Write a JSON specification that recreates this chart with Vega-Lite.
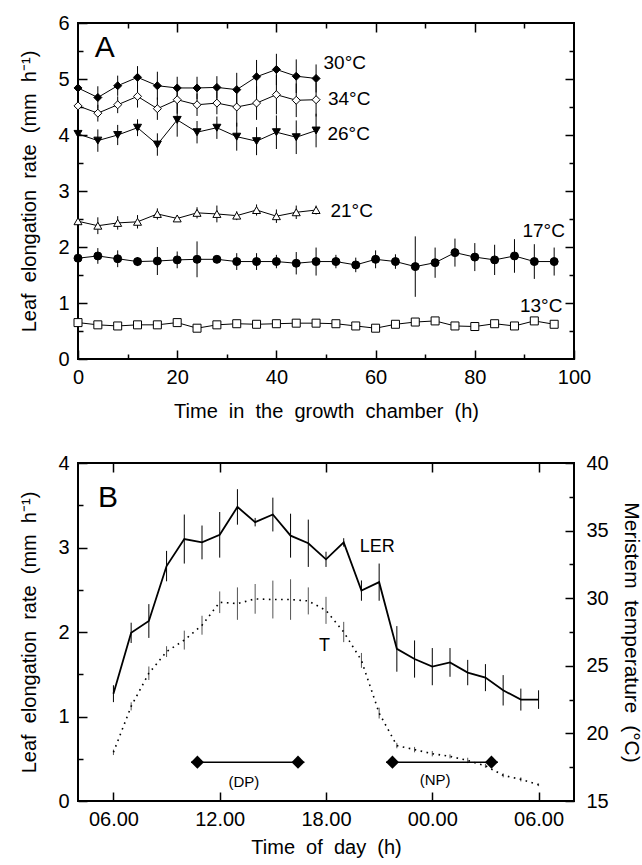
{
  "$schema": "https://vega.github.io/schema/vega-lite/v6.json",
  "background": "white",
  "padding": {"left": 18, "top": 12, "right": 0, "bottom": 0},
  "spacing": 30,
  "config": {
    "font": "Liberation Sans",
    "view": {"stroke": "black", "strokeWidth": 2},
    "axis": {"grid": false, "domain": false, "tickColor": "black", "tickWidth": 1.5, "labelFontSize": 20, "labelColor": "black", "labelFont": "Liberation Sans", "titleFont": "Liberation Sans", "titleFontSize": 20, "titleFontWeight": "normal", "titleColor": "black", "labelFlush": false, "labelOverlap": false},
    "text": {"font": "Liberation Sans", "color": "black"}
  },
  "datasets": {
    "A": [
      {"s":"30°C","t":0,"v":4.84,"e":0.12},{"s":"30°C","t":4,"v":4.67,"e":0.2},{"s":"30°C","t":8,"v":4.88,"e":0.18},{"s":"30°C","t":12,"v":5.03,"e":0.2},{"s":"30°C","t":16,"v":4.88,"e":0.25},{"s":"30°C","t":20,"v":4.84,"e":0.2},{"s":"30°C","t":24,"v":4.84,"e":0.2},{"s":"30°C","t":28,"v":4.85,"e":0.2},{"s":"30°C","t":32,"v":4.81,"e":0.3},{"s":"30°C","t":36,"v":5.04,"e":0.3},{"s":"30°C","t":40,"v":5.17,"e":0.28},{"s":"30°C","t":44,"v":5.05,"e":0.3},{"s":"30°C","t":48,"v":5.01,"e":0.25},
      {"s":"34°C","t":0,"v":4.52,"e":0.1},{"s":"34°C","t":4,"v":4.39,"e":0.15},{"s":"34°C","t":8,"v":4.54,"e":0.15},{"s":"34°C","t":12,"v":4.69,"e":0.2},{"s":"34°C","t":16,"v":4.47,"e":0.2},{"s":"34°C","t":20,"v":4.63,"e":0.25},{"s":"34°C","t":24,"v":4.54,"e":0.2},{"s":"34°C","t":28,"v":4.57,"e":0.2},{"s":"34°C","t":32,"v":4.5,"e":0.35},{"s":"34°C","t":36,"v":4.57,"e":0.3},{"s":"34°C","t":40,"v":4.72,"e":0.35},{"s":"34°C","t":44,"v":4.62,"e":0.3},{"s":"34°C","t":48,"v":4.63,"e":0.3},
      {"s":"26°C","t":0,"v":4.02,"e":0.12},{"s":"26°C","t":4,"v":3.9,"e":0.2},{"s":"26°C","t":8,"v":4.0,"e":0.18},{"s":"26°C","t":12,"v":4.13,"e":0.15},{"s":"26°C","t":16,"v":3.83,"e":0.2},{"s":"26°C","t":20,"v":4.27,"e":0.3},{"s":"26°C","t":24,"v":4.05,"e":0.2},{"s":"26°C","t":28,"v":4.13,"e":0.2},{"s":"26°C","t":32,"v":3.97,"e":0.25},{"s":"26°C","t":36,"v":3.89,"e":0.25},{"s":"26°C","t":40,"v":4.05,"e":0.3},{"s":"26°C","t":44,"v":3.96,"e":0.3},{"s":"26°C","t":48,"v":4.08,"e":0.3},
      {"s":"21°C","t":0,"v":2.46,"e":0.05},{"s":"21°C","t":4,"v":2.38,"e":0.15},{"s":"21°C","t":8,"v":2.43,"e":0.12},{"s":"21°C","t":12,"v":2.45,"e":0.12},{"s":"21°C","t":16,"v":2.59,"e":0.1},{"s":"21°C","t":20,"v":2.51,"e":0.05},{"s":"21°C","t":24,"v":2.61,"e":0.1},{"s":"21°C","t":28,"v":2.59,"e":0.15},{"s":"21°C","t":32,"v":2.56,"e":0.08},{"s":"21°C","t":36,"v":2.66,"e":0.1},{"s":"21°C","t":40,"v":2.55,"e":0.12},{"s":"21°C","t":44,"v":2.62,"e":0.12},{"s":"21°C","t":48,"v":2.66,"e":0.08},
      {"s":"17°C","t":0,"v":1.8,"e":0.05},{"s":"17°C","t":4,"v":1.84,"e":0.14},{"s":"17°C","t":8,"v":1.79,"e":0.15},{"s":"17°C","t":12,"v":1.74,"e":0.08},{"s":"17°C","t":16,"v":1.75,"e":0.25},{"s":"17°C","t":20,"v":1.77,"e":0.15},{"s":"17°C","t":24,"v":1.78,"e":0.32},{"s":"17°C","t":28,"v":1.78,"e":0.05},{"s":"17°C","t":32,"v":1.74,"e":0.15},{"s":"17°C","t":36,"v":1.74,"e":0.15},{"s":"17°C","t":40,"v":1.74,"e":0.12},{"s":"17°C","t":44,"v":1.71,"e":0.2},{"s":"17°C","t":48,"v":1.74,"e":0.25},{"s":"17°C","t":52,"v":1.74,"e":0.12},{"s":"17°C","t":56,"v":1.68,"e":0.13},{"s":"17°C","t":60,"v":1.78,"e":0.16},{"s":"17°C","t":64,"v":1.74,"e":0.13},{"s":"17°C","t":68,"v":1.65,"e":0.54},{"s":"17°C","t":72,"v":1.72,"e":0.27},{"s":"17°C","t":76,"v":1.9,"e":0.25},{"s":"17°C","t":80,"v":1.82,"e":0.25},{"s":"17°C","t":84,"v":1.77,"e":0.27},{"s":"17°C","t":88,"v":1.84,"e":0.3},{"s":"17°C","t":92,"v":1.74,"e":0.31},{"s":"17°C","t":96,"v":1.74,"e":0.25},
      {"s":"13°C","t":0,"v":0.65,"e":0.03},{"s":"13°C","t":4,"v":0.61,"e":0.03},{"s":"13°C","t":8,"v":0.59,"e":0.03},{"s":"13°C","t":12,"v":0.61,"e":0.03},{"s":"13°C","t":16,"v":0.61,"e":0.03},{"s":"13°C","t":20,"v":0.65,"e":0.06},{"s":"13°C","t":24,"v":0.55,"e":0.03},{"s":"13°C","t":28,"v":0.61,"e":0.03},{"s":"13°C","t":32,"v":0.63,"e":0.03},{"s":"13°C","t":36,"v":0.62,"e":0.03},{"s":"13°C","t":40,"v":0.63,"e":0.03},{"s":"13°C","t":44,"v":0.64,"e":0.03},{"s":"13°C","t":48,"v":0.64,"e":0.03},{"s":"13°C","t":52,"v":0.63,"e":0.03},{"s":"13°C","t":56,"v":0.59,"e":0.03},{"s":"13°C","t":60,"v":0.55,"e":0.03},{"s":"13°C","t":64,"v":0.62,"e":0.03},{"s":"13°C","t":68,"v":0.66,"e":0.03},{"s":"13°C","t":72,"v":0.68,"e":0.03},{"s":"13°C","t":76,"v":0.59,"e":0.03},{"s":"13°C","t":80,"v":0.58,"e":0.03},{"s":"13°C","t":84,"v":0.63,"e":0.03},{"s":"13°C","t":88,"v":0.59,"e":0.03},{"s":"13°C","t":92,"v":0.68,"e":0.04},{"s":"13°C","t":96,"v":0.62,"e":0.03}
    ],
    "Alab": [
      {"t":49.5,"v":5.28,"label":"30°C"},{"t":50.4,"v":4.65,"label":"34°C"},{"t":50.3,"v":4.02,"label":"26°C"},{"t":50.9,"v":2.65,"label":"21°C"},{"t":89.6,"v":2.28,"label":"17°C"},{"t":89.1,"v":0.95,"label":"13°C"}
    ],
    "LER": [
      {"t":6,"v":1.27,"e":0.1},{"t":7,"v":1.99,"e":0.12},{"t":8,"v":2.13,"e":0.2},{"t":9,"v":2.78,"e":0.18},{"t":10,"v":3.1,"e":0.29},{"t":11,"v":3.06,"e":0.2},{"t":12,"v":3.15,"e":0.27},{"t":13,"v":3.48,"e":0.21},{"t":14,"v":3.3,"e":0.05},{"t":15,"v":3.39,"e":0.2},{"t":16,"v":3.14,"e":0.26},{"t":17,"v":3.05,"e":0.28},{"t":18,"v":2.86,"e":0.09},{"t":19,"v":3.06,"e":0.05},{"t":20,"v":2.49,"e":0.12},{"t":21,"v":2.59,"e":0.22},{"t":22,"v":1.8,"e":0.27},{"t":23,"v":1.68,"e":0.22},{"t":24,"v":1.59,"e":0.22},{"t":25,"v":1.64,"e":0.17},{"t":26,"v":1.52,"e":0.15},{"t":27,"v":1.46,"e":0.16},{"t":28,"v":1.31,"e":0.18},{"t":29,"v":1.2,"e":0.13},{"t":30,"v":1.2,"e":0.11}
    ],
    "T": [
      {"t":6,"v":18.6,"e":0.2},{"t":7,"v":22.0,"e":0.3},{"t":8,"v":24.45,"e":0.5},{"t":9,"v":26.05,"e":0.4},{"t":10,"v":26.9,"e":0.7},{"t":11,"v":28.0,"e":0.7},{"t":12,"v":29.7,"e":0.8},{"t":13,"v":29.6,"e":1.2},{"t":14,"v":29.95,"e":1.1},{"t":15,"v":29.9,"e":1.4},{"t":16,"v":29.9,"e":1.5},{"t":17,"v":29.8,"e":1.0},{"t":18,"v":29.1,"e":1.0},{"t":19,"v":27.5,"e":0.75},{"t":20,"v":25.4,"e":0.55},{"t":21,"v":21.5,"e":0.4},{"t":22,"v":19.1,"e":0.2},{"t":23,"v":18.8,"e":0.2},{"t":24,"v":18.5,"e":0.2},{"t":25,"v":18.3,"e":0.15},{"t":26,"v":18.0,"e":0.2},{"t":27,"v":17.6,"e":0.15},{"t":28,"v":16.9,"e":0.15},{"t":29,"v":16.6,"e":0.15},{"t":30,"v":16.2,"e":0.1}
    ],
    "arrows": [
      {"lab":"DP","t0":10.38,"t1":16.78,"v":0.46},{"lab":"NP","t0":21.39,"t1":27.7,"v":0.46}
    ],
    "heads": [
      {"t":10.74,"v":0.46,"end":"left"},{"t":16.42,"v":0.46,"end":"right"},{"t":21.75,"v":0.46,"end":"left"},{"t":27.34,"v":0.46,"end":"right"}
    ],
    "Blab": [
      {"t":19.9,"v":3.01,"label":"LER"},{"t":17.6,"v":1.83,"label":"T"}
    ],
    "Bper": [
      {"t":13.36,"v":0.225,"label":"(DP)"},{"t":24.16,"v":0.25,"label":"(NP)"}
    ]
  },
  "vconcat": [
    {
      "width": 496,
      "height": 336,
      "resolve": {"axis": {"x": "independent", "y": "independent"}},
      "layer": [
        {
          "data": {"name": "A"},
          "mark": {"type": "errorbar", "color": "black", "thickness": 1},
          "encoding": {
            "x": {"field": "t", "type": "quantitative", "scale": {"domain": [0, 100], "nice": false, "zero": false},
                  "axis": {"orient": "bottom", "values": [0, 20, 40, 60, 80, 100], "tickSize": -9, "labelPadding": 17, "title": "Time \u00a0in \u00a0the \u00a0growth \u00a0chamber \u00a0(h)", "titlePadding": 14}},
            "y": {"field": "v", "type": "quantitative", "scale": {"domain": [0, 6], "nice": false, "zero": false},
                  "axis": {"orient": "left", "values": [0, 1, 2, 3, 4, 5, 6], "tickSize": -9, "labelPadding": 18, "title": "Leaf \u00a0elongation \u00a0rate \u00a0(mm \u00a0h⁻¹)", "titlePadding": 18}},
            "yError": {"field": "e"}
          }
        },
        {
          "data": {"name": "A"},
          "mark": {"type": "line", "color": "black", "strokeWidth": 1},
          "encoding": {
            "x": {"field": "t", "type": "quantitative", "scale": {"domain": [0, 100], "nice": false, "zero": false},
                  "axis": {"orient": "bottom", "values": [10, 30, 50, 70, 90], "tickSize": -5, "labels": false, "title": null}},
            "y": {"field": "v", "type": "quantitative", "scale": {"domain": [0, 6], "nice": false, "zero": false},
                  "axis": {"orient": "left", "values": [0.5, 1.5, 2.5, 3.5, 4.5, 5.5], "tickSize": -5, "labels": false, "title": null}},
            "detail": {"field": "s"}
          }
        },
        {
          "data": {"name": "A"},
          "mark": {"type": "point", "filled": true, "stroke": "black", "strokeWidth": 1, "opacity": 1},
          "encoding": {
            "x": {"field": "t", "type": "quantitative", "scale": {"domain": [0, 100], "nice": false, "zero": false},
                  "axis": {"orient": "top", "values": [20, 40, 60, 80], "tickSize": -9, "labels": false, "title": null}},
            "y": {"field": "v", "type": "quantitative", "scale": {"domain": [0, 6], "nice": false, "zero": false},
                  "axis": {"orient": "right", "values": [1, 2, 3, 4, 5], "tickSize": -9, "labels": false, "title": null}},
            "shape": {"field": "s", "type": "nominal", "legend": null,
                      "scale": {"domain": ["30°C", "34°C", "26°C", "21°C", "17°C", "13°C"], "range": ["diamond", "diamond", "triangle-down", "triangle-up", "circle", "square"]}},
            "fill": {"field": "s", "type": "nominal", "legend": null,
                     "scale": {"domain": ["30°C", "34°C", "26°C", "21°C", "17°C", "13°C"], "range": ["black", "white", "black", "white", "black", "white"]}},
            "size": {"field": "s", "type": "nominal", "legend": null,
                     "scale": {"domain": ["30°C", "34°C", "26°C", "21°C", "17°C", "13°C"], "range": [64, 64, 64, 56, 56, 36]}}
          }
        },
        {
          "data": {"name": "Alab"},
          "mark": {"type": "text", "align": "left", "baseline": "middle", "fontSize": 19},
          "encoding": {
            "x": {"field": "t", "type": "quantitative", "scale": {"domain": [0, 100], "nice": false, "zero": false},
                  "axis": {"orient": "top", "values": [10, 30, 50, 70, 90], "tickSize": -5, "labels": false, "title": null}},
            "y": {"field": "v", "type": "quantitative", "scale": {"domain": [0, 6], "nice": false, "zero": false},
                  "axis": {"orient": "right", "values": [0.5, 1.5, 2.5, 3.5, 4.5, 5.5], "tickSize": -5, "labels": false, "title": null}},
            "text": {"field": "label"}
          }
        },
        {
          "data": {"values": [{"t": 3.4, "v": 5.55, "label": "A"}]},
          "mark": {"type": "text", "align": "left", "baseline": "middle", "fontSize": 30},
          "encoding": {
            "x": {"field": "t", "type": "quantitative", "scale": {"domain": [0, 100], "nice": false, "zero": false}, "axis": null},
            "y": {"field": "v", "type": "quantitative", "scale": {"domain": [0, 6], "nice": false, "zero": false}, "axis": null},
            "text": {"field": "label"}
          }
        }
      ]
    },
    {
      "width": 496,
      "height": 338,
      "resolve": {"scale": {"y": "independent"}, "axis": {"x": "independent", "y": "independent"}},
      "layer": [
        {
          "data": {"name": "T"},
          "mark": {"type": "errorbar", "color": "#555555", "thickness": 1},
          "encoding": {
            "x": {"field": "t", "type": "quantitative", "scale": {"domain": [4, 32], "nice": false, "zero": false}, "axis": null},
            "y": {"field": "v", "type": "quantitative", "scale": {"domain": [15, 40], "nice": false, "zero": false},
                  "axis": {"orient": "right", "values": [15, 20, 25, 30, 35, 40], "tickSize": -9, "labelPadding": 21, "title": "Meristem \u00a0temperature \u00a0(°C)", "titlePadding": 12, "titleFontSize": 21}},
            "yError": {"field": "e"}
          }
        },
        {
          "data": {"name": "T"},
          "mark": {"type": "line", "color": "black", "strokeWidth": 1.6, "strokeDash": [1.6, 4.5]},
          "encoding": {
            "x": {"field": "t", "type": "quantitative", "scale": {"domain": [4, 32], "nice": false, "zero": false}, "axis": null},
            "y": {"field": "v", "type": "quantitative", "scale": {"domain": [15, 40], "nice": false, "zero": false},
                  "axis": {"orient": "right", "values": [17.5, 22.5, 27.5, 32.5, 37.5], "tickSize": -5, "labels": false, "title": null}}
          }
        },
        {
          "data": {"name": "LER"},
          "mark": {"type": "errorbar", "color": "black", "thickness": 1},
          "encoding": {
            "x": {"field": "t", "type": "quantitative", "scale": {"domain": [4, 32], "nice": false, "zero": false},
                  "axis": {"orient": "bottom", "values": [6, 12, 18, 24, 30], "tickSize": -9, "labelPadding": 17,
                           "labelExpr": "datum.value == 12 ? '12.00' : datum.value == 18 ? '18.00' : datum.value == 24 ? '00.00' : '06.00'",
                           "title": "Time \u00a0of \u00a0day \u00a0(h)", "titlePadding": 8}},
            "y": {"field": "v", "type": "quantitative", "scale": {"domain": [0, 4], "nice": false, "zero": false},
                  "axis": {"orient": "left", "values": [0, 1, 2, 3, 4], "tickSize": -9, "labelPadding": 18, "title": "Leaf \u00a0elongation \u00a0rate \u00a0(mm \u00a0h⁻¹)", "titlePadding": 18}},
            "yError": {"field": "e"}
          }
        },
        {
          "data": {"name": "LER"},
          "mark": {"type": "line", "color": "black", "strokeWidth": 1.8},
          "encoding": {
            "x": {"field": "t", "type": "quantitative", "scale": {"domain": [4, 32], "nice": false, "zero": false},
                  "axis": {"orient": "top", "values": [6, 12, 18, 24, 30], "tickSize": -9, "labels": false, "title": null}},
            "y": {"field": "v", "type": "quantitative", "scale": {"domain": [0, 4], "nice": false, "zero": false},
                  "axis": {"orient": "left", "values": [0.5, 1.5, 2.5, 3.5], "tickSize": -5, "labels": false, "title": null}}
          }
        },
        {
          "data": {"name": "arrows"},
          "mark": {"type": "rule", "color": "black", "strokeWidth": 1.5},
          "encoding": {
            "x": {"field": "t0", "type": "quantitative", "scale": {"domain": [4, 32], "nice": false, "zero": false}, "axis": null},
            "x2": {"field": "t1"},
            "y": {"field": "v", "type": "quantitative", "scale": {"domain": [0, 4], "nice": false, "zero": false}, "axis": null}
          }
        },
        {
          "data": {"name": "heads"},
          "mark": {"type": "point", "filled": true, "color": "black", "opacity": 1, "strokeWidth": 0},
          "encoding": {
            "x": {"field": "t", "type": "quantitative", "scale": {"domain": [4, 32], "nice": false, "zero": false}, "axis": null},
            "y": {"field": "v", "type": "quantitative", "scale": {"domain": [0, 4], "nice": false, "zero": false}, "axis": null},
            "shape": {"field": "end", "type": "nominal", "legend": null, "scale": {"domain": ["left", "right"], "range": ["M -1 0 L 1 -0.38 L 1 0.38 Z", "M 1 0 L -1 -0.38 L -1 0.38 Z"]}},
            "size": {"value": 170}
          }
        },
        {
          "data": {"name": "Blab"},
          "mark": {"type": "text", "align": "left", "baseline": "middle", "fontSize": 18},
          "encoding": {
            "x": {"field": "t", "type": "quantitative", "scale": {"domain": [4, 32], "nice": false, "zero": false}, "axis": null},
            "y": {"field": "v", "type": "quantitative", "scale": {"domain": [0, 4], "nice": false, "zero": false}, "axis": null},
            "text": {"field": "label"}
          }
        },
        {
          "data": {"name": "Bper"},
          "mark": {"type": "text", "align": "center", "baseline": "middle", "fontSize": 15},
          "encoding": {
            "x": {"field": "t", "type": "quantitative", "scale": {"domain": [4, 32], "nice": false, "zero": false}, "axis": null},
            "y": {"field": "v", "type": "quantitative", "scale": {"domain": [0, 4], "nice": false, "zero": false}, "axis": null},
            "text": {"field": "label"}
          }
        },
        {
          "data": {"values": [{"t": 5.13, "v": 3.59, "label": "B"}]},
          "mark": {"type": "text", "align": "left", "baseline": "middle", "fontSize": 30},
          "encoding": {
            "x": {"field": "t", "type": "quantitative", "scale": {"domain": [4, 32], "nice": false, "zero": false}, "axis": null},
            "y": {"field": "v", "type": "quantitative", "scale": {"domain": [0, 4], "nice": false, "zero": false}, "axis": null},
            "text": {"field": "label"}
          }
        }
      ]
    }
  ]
}
